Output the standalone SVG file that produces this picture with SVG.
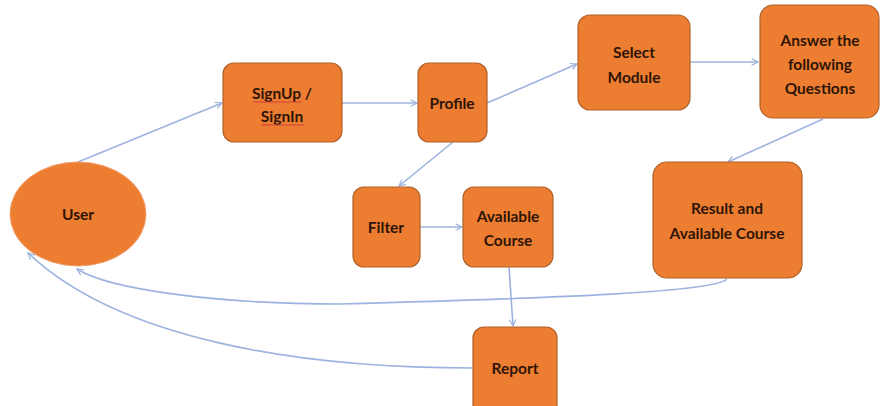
<svg xmlns="http://www.w3.org/2000/svg" width="881" height="406" viewBox="0 0 881 406">
<defs>
<style>
.node{fill:#ED7D31;stroke:#B0622A;stroke-width:1.2}
.user{fill:#ED7D31;stroke:#F0A070;stroke-width:1}
.lbl{font-family:Lato,"Open Sans","Liberation Sans",sans-serif;font-weight:bold;font-size:15.5px;fill:#2E1508;text-anchor:middle;dominant-baseline:central}
.edge{fill:none;stroke:#9DB3DF;stroke-width:1.6;marker-end:url(#arr)}
.squig{stroke:#D04040;stroke-width:1}
</style>
<marker id="arr" viewBox="0 0 10 10" refX="9" refY="5" markerWidth="8" markerHeight="8" markerUnits="userSpaceOnUse" orient="auto">
<path d="M1,1 L9,5 L1,9" fill="none" stroke="#9DB3DF" stroke-width="1.5"/>
</marker>
</defs>
<rect width="881" height="406" fill="#FFFFFF"/>
<g id="connectors">
<path class="edge" d="M78,162 L222,103"/>
<path class="edge" d="M342,103 L417,103"/>
<path class="edge" d="M487,103 L577,64"/>
<path class="edge" d="M690,62 L758,62"/>
<path class="edge" d="M823,119 L728,162"/>
<path class="edge" d="M453,142 L399,186"/>
<path class="edge" d="M420,227 L462,227"/>
<path class="edge" d="M509,267 L513,326"/>
<path class="edge" d="M727,279 C715,292 560,298 340,304 C220,304 110,290 77,269"/>
<path class="edge" d="M473,368 C300,368 120,340 28,253"/>
</g>
<g id="user">
<ellipse class="user" cx="78" cy="214" rx="68" ry="52"/>
<text class="lbl" x="78" y="214">User</text>
</g>
<g id="signup">
<rect class="node" x="223" y="63" width="119" height="79" rx="11"/>
<text class="lbl" x="282" y="93">SignUp /</text>
<text class="lbl" x="282" y="116">SignIn</text>
<line class="squig" x1="253" y1="102" x2="302" y2="102"/>
<line class="squig" x1="261" y1="125" x2="304" y2="125"/>
</g>
<g id="profile">
<rect class="node" x="418" y="63" width="69" height="79" rx="11"/>
<text class="lbl" x="452" y="103">Profile</text>
</g>
<g id="select">
<rect class="node" x="578" y="15" width="112" height="95" rx="12"/>
<text class="lbl" x="634" y="52">Select</text>
<text class="lbl" x="634" y="77">Module</text>
</g>
<g id="answer">
<rect class="node" x="760" y="5" width="119" height="113" rx="13"/>
<text class="lbl" x="820" y="40">Answer the</text>
<text class="lbl" x="820" y="64">following</text>
<text class="lbl" x="820" y="88">Questions</text>
</g>
<g id="result">
<rect class="node" x="653" y="162" width="149" height="116" rx="14"/>
<text class="lbl" x="727" y="208">Result and</text>
<text class="lbl" x="727" y="233">Available Course</text>
</g>
<g id="filter">
<rect class="node" x="353" y="187" width="67" height="80" rx="11"/>
<text class="lbl" x="386" y="227">Filter</text>
</g>
<g id="available">
<rect class="node" x="463" y="187" width="90" height="80" rx="11"/>
<text class="lbl" x="508" y="216">Available</text>
<text class="lbl" x="508" y="240">Course</text>
</g>
<g id="report">
<rect class="node" x="473" y="327" width="84" height="90" rx="11"/>
<text class="lbl" x="515" y="368">Report</text>
</g>
</svg>
